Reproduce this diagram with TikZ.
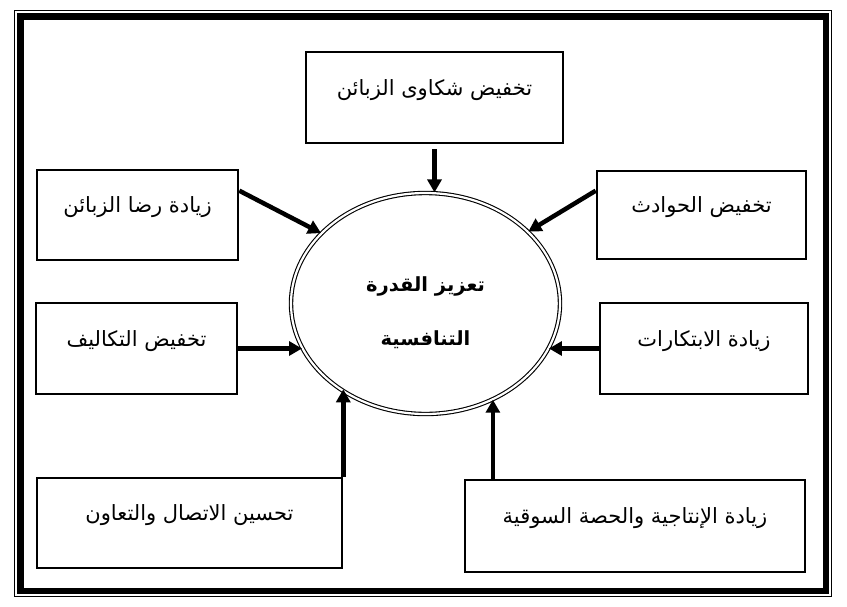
\documentclass[tikz,border=0pt]{standalone}
\usepackage{fontspec}
\newfontfamily\arabicfont[Script=Arabic]{DejaVu Sans}
\TeXXeTstate=1
\usetikzlibrary{arrows.meta,shapes.geometric}

\begin{document}
\begin{tikzpicture}[x=1pt, y=-1pt,
  factor/.style={rectangle, draw, line width=2.6pt, inner sep=0pt,
    font=\arabicfont\fontsize{21}{25}\selectfont, text height=15pt, text depth=20pt},
  arr/.style={line width=4.5pt, -{Triangle[length=13pt,width=14pt]}}]
  \useasboundingbox (0,0) rectangle (847,606);

  % Page frame
  \draw[line width=1.3pt] (14.5,10.5) rectangle (831.5,596.5);
  \draw[line width=6.5pt] (20.5,16.5) rectangle (826,591);

  % Central ellipse
  \node[ellipse, draw, double, double distance=2.2pt, line width=1.1pt,
    minimum width=269pt, minimum height=221pt, inner sep=0pt, align=center,
    font=\arabicfont\bfseries\fontsize{19.5}{23}\selectfont]
    (competitiveness) at (425.5,303.5)
    {\rule{0pt}{34pt}\beginR تعزيز القدرة\endR\\[31pt]\beginR التنافسية\endR};

  % Factors
  \node[factor, minimum width=257pt, minimum height=91pt] (complaints) at (434.5,97.5) {\beginR تخفيض شكاوى الزبائن\endR};
  \node[factor, minimum width=201pt, minimum height=90pt] (satisfaction) at (137.5,215) {\beginR زيادة رضا الزبائن\endR};
  \node[factor, minimum width=209pt, minimum height=88pt] (accidents) at (701.5,215) {\beginR تخفيض الحوادث\endR};
  \node[factor, minimum width=201pt, minimum height=91pt] (costs) at (136.5,348.5) {\beginR تخفيض التكاليف\endR};
  \node[factor, minimum width=208pt, minimum height=91pt] (innovation) at (704,348.5) {\beginR زيادة الابتكارات\endR};
  \node[factor, minimum width=305pt, minimum height=90pt] (communication) at (189.5,523) {\beginR تحسين الاتصال والتعاون\endR};
  \node[factor, minimum width=340pt, minimum height=92pt] (productivity) at (635,526) {\beginR زيادة الإنتاجية والحصة السوقية\endR};

  % Arrows into the ellipse
  \draw[arr] ([yshift=-5pt]complaints.south) -- (complaints.south |- competitiveness.north);
  \draw[arr] ([yshift=-22pt]satisfaction.north east) -- (competitiveness.146);
  \draw[arr] ([yshift=-21pt]accidents.north west) -- (competitiveness.35);
  \draw[arr] (costs.east) -- (costs.east -| competitiveness.200);
  \draw[arr] (innovation.west) -- (innovation.west -| competitiveness.-20);
  \draw[arr] (communication.north east) -- (communication.north east |- competitiveness.225);
  \draw[arr] (competitiveness.-55 |- productivity.north) -- (competitiveness.-55);
\end{tikzpicture}
\end{document}
